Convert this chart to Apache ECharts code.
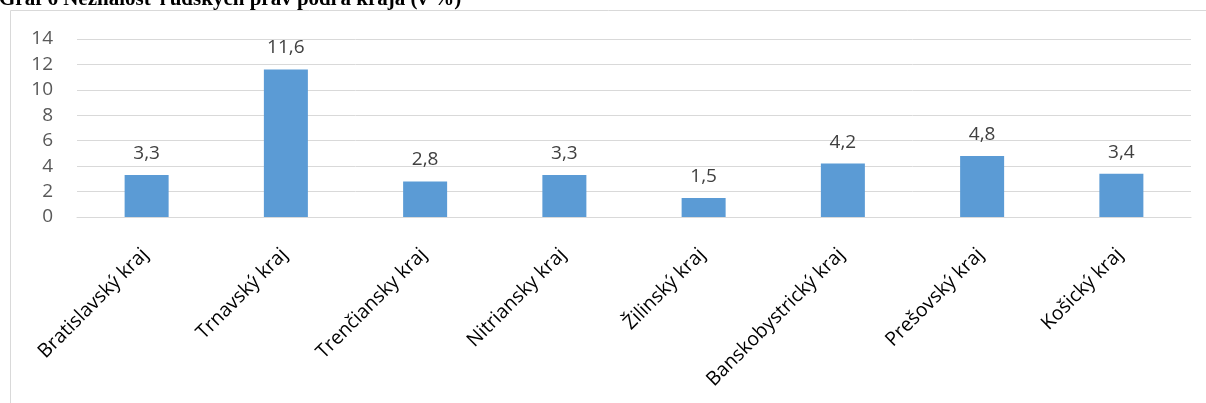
<!DOCTYPE html>
<html>
<head>
    <meta charset="utf-8" />
    <title>Graf 6</title>
    <script src="https://cdn.jsdelivr.net/npm/echarts@6/dist/echarts.min.js"></script>
    <style type="text/css">
        body {
            margin: 0;
            padding: 0;
            background-color: #fff;
            overflow: hidden;
        }

        #main {
            width: 1206px;
            height: 403px;
        }
    </style>
</head>
<body>
    <div id="main"></div>
    <script type="text/javascript">
        // data
        var categories = ['Bratislavský kraj', 'Trnavský kraj', 'Trenčiansky kraj', 'Nitriansky kraj',
            'Žilinský kraj', 'Banskobystrický kraj', 'Prešovský kraj', 'Košický kraj'];
        var values = [3.3, 11.6, 2.8, 3.3, 1.5, 4.2, 4.8, 3.4];
        var titleText = 'Graf 6 Neznalosť ľudských práv podľa kraja (v %)';

        var myChart = echarts.init(document.getElementById('main'));

        var option = {
            animation: false,
            title: {
                text: titleText,
                left: -1,
                top: -11,
                padding: 0,
                textStyle: {
                    fontFamily: 'Liberation Serif',
                    fontWeight: 'bold',
                    fontSize: 21,
                    color: '#000'
                }
            },
            // rámik grafu
            graphic: [{
                type: 'rect',
                shape: { x: 10.5, y: 10.5, width: 1220, height: 420 },
                style: { fill: 'none', stroke: '#d9d9d9', lineWidth: 1 },
                silent: true
            }],
            grid: {
                left: 77,
                right: 15,
                top: 39,
                bottom: 186
            },
            xAxis: {
                type: 'category',
                data: categories,
                axisLine: { show: true, lineStyle: { color: '#d9d9d9', width: 1 } },
                axisTick: { show: false },
                axisLabel: {
                    rotate: 45,
                    interval: 0,
                    margin: 19,
                    verticalAlign: 'top',
                    padding: [0, 12, 0, 0],
                    fontFamily: 'Open Sans',
                    fontSize: 19.5,
                    color: '#000'
                }
            },
            yAxis: {
                type: 'value',
                min: 0,
                max: 14,
                interval: 2,
                axisLine: { show: false },
                axisTick: { show: false },
                splitLine: { lineStyle: { color: '#d9d9d9', width: 1 } },
                axisLabel: {
                    margin: 24,
                    fontFamily: 'Open Sans',
                    fontSize: 19,
                    color: '#595959'
                }
            },
            series: [{
                type: 'bar',
                data: values,
                barWidth: '31.6%',
                itemStyle: { color: '#5b9bd5' },
                label: {
                    show: true,
                    position: 'top',
                    distance: 12,
                    fontFamily: 'Open Sans',
                    fontSize: 19,
                    color: '#404040',
                    formatter: function (p) {
                        return String(p.value).replace('.', ',');
                    }
                }
            }]
        };

        myChart.setOption(option);
    </script>
</body>
</html>
